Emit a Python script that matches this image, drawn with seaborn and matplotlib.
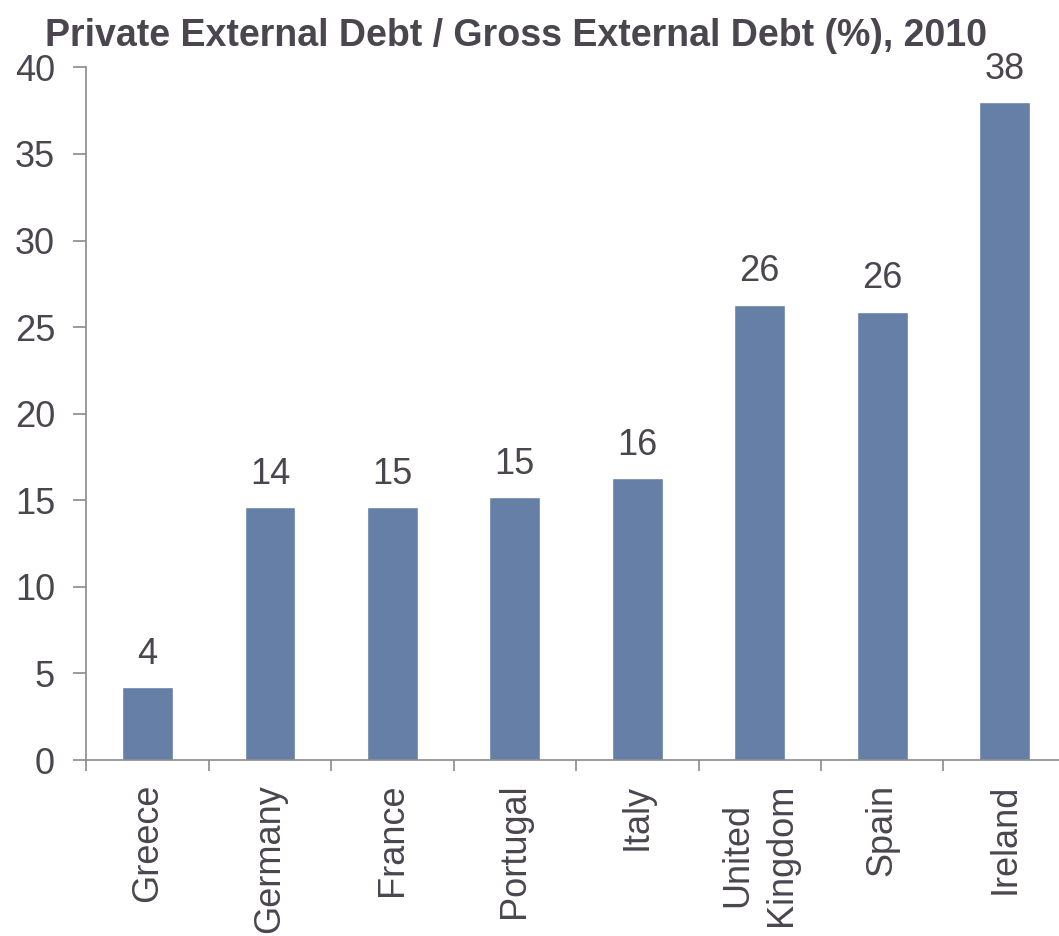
import matplotlib
matplotlib.use("Agg")
import matplotlib.pyplot as plt
import seaborn as sns
import pandas as pd

countries = ["Greece", "Germany", "France", "Portugal", "Italy", "United\nKingdom", "Spain", "Ireland"]
values = [4.2, 14.6, 14.6, 15.2, 16.3, 26.3, 25.9, 38.0]
value_labels = ["4", "14", "15", "15", "16", "26", "26", "38"]
title = "Private External Debt / Gross External Debt (%), 2010"

sns.set_theme(style="white")
plt.rcParams["font.family"] = ["Liberation Sans", "DejaVu Sans"]

TXT = "#4b4550"
BAR = "#667fa7"
AX = "#8a8a8a"

df = pd.DataFrame({"country": countries, "value": values})

fig = plt.figure(figsize=(10.59, 9.36), dpi=100)
ax = fig.add_axes([0.0815, 0.188, 0.925, 0.74])
sns.barplot(data=df, x="country", y="value", color=BAR, width=0.416, saturation=1, ax=ax)

ax.set_xlim(-0.5, len(countries) - 0.5)
ax.set_ylim(0, 40)
ax.set_yticks(range(0, 41, 5))
ax.set_xlabel("")
ax.set_ylabel("")

for s in ["top", "right"]:
    ax.spines[s].set_visible(False)
for s in ["left", "bottom"]:
    ax.spines[s].set_color(AX)
    ax.spines[s].set_linewidth(1.2)

ax.tick_params(axis="y", length=9.5, width=1.2, color=AX, labelsize=26, labelcolor=TXT, pad=13, left=True)
ax.set_xticks(range(len(countries)))
ax.set_xticklabels(countries, rotation=90, fontsize=26, color=TXT, linespacing=1.3)
ax.tick_params(axis="x", which="major", length=0, pad=17)
ax.set_xticks([i - 0.5 for i in range(len(countries) + 1)], minor=True)
ax.tick_params(axis="x", which="minor", length=8, width=1.2, color=AX, bottom=True)

for i, (v, lab) in enumerate(zip(values, value_labels)):
    ax.annotate(lab, (i, v), xytext=(0, 11), textcoords="offset points",
                ha="center", va="bottom", fontsize=26, color=TXT)

fig.text(0.4875, 0.981, title, ha="center", va="top", fontsize=27, fontweight="bold", color=TXT)

fig.savefig("out.png", dpi=100)
